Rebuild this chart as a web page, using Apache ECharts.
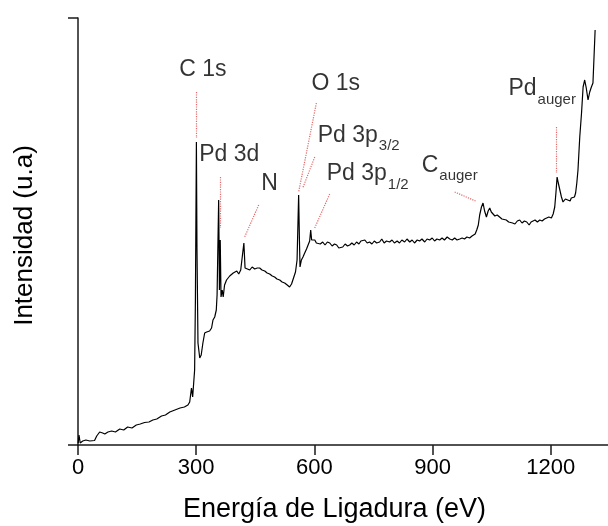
<!DOCTYPE html>
<html>
<head>
<meta charset="utf-8">
<script src="https://cdn.jsdelivr.net/npm/echarts@6/dist/echarts.min.js"></script>
<style>
html,body{margin:0;padding:0;background:#fff;}
#chart{width:608px;height:526px;}
</style>
</head>
<body>
<div id="chart"></div>
<script>
// Binding energy (eV) and intensity (a.u.)
const energy = [0.5,2.5,5.6,12,20,30,42,47.5,55,62.7,68,76,85.5,95,106,116,126,137,148,158,169,180,190,200,212,222,233,246,259,270,279,283.5,288,291,293.7,296,298,300.5,302,304.5,309,312.7,317,321.5,326.6,334,339,342.6,347,351,353,355.3,357,359,361,363,366,368.5,372,377,381,385,390,394,398,403,408,413,418,421,424,430,436,442,448.5,455,461,467,474,480,486.5,493,499,505,512,518,524.6,531,537,542,547,552,556,560,562,563.5,567,571,575.4,580,584,588,590.6,593,597,601,605,610,615,621,627,633,639,645,651,656.6,662,667,672,678,684,689.6,695,701,707,713,718,722.6,728,734,740,746,752,758,765.5,771,777,783,791,797,803,810,816,822,829,835,842,848,854,861,867,873,880,886,892.6,899,905,911,918,924,930,937,943.5,950,956,962,969,975,981,987,994,1000,1004,1008,1012,1016,1019.5,1024,1028,1032,1036.6,1041,1045,1049,1053,1058,1064,1070,1076,1081,1087,1093,1098,1103,1109,1115,1121,1127,1133,1139,1145,1150,1154,1160,1166,1172,1178,1184,1189,1195,1201.5,1206,1210,1213,1216,1219,1223,1227,1231,1237,1243,1249,1252,1256.5,1260,1263,1266,1269,1273.5,1278,1282,1286,1290,1294.5,1298.8,1303,1307,1311,1312.5];
const intensity = [2,10,2,4,5,4,4.5,9,13,12,11,13,14,13,16,15,18,17,20,21,22.5,23,25,26,29,30,33,35,37,38,40,43,57,48,50,75,145,303,195,102,87,90,102,112,113,114,117,125,128,135,150,205,245,155,205,148,155,148,160,165,163,169,167,172,170,174,171,175,173,202,177,176,175,178,176,177,177,175,174,172,171,169,168,166,165,163,162,160,158,161,167,173,185,250,205,178,185,188,192,196,200,204,215,205,203,205,202,204,201,203,200,203,202,199,201,200,197,199,198,201,199,200,202,200,203,201,204,203,205,202,203,201,204,202,203,206,202,204,203,205,202,204,202,205,203,206,203,205,202,205,204,206,203,206,205,207,204,206,205,207,205,208,206,205,207,205,206,207,206,208,207,209,208,211,215,220,230,238,242,234,228,234,237,233,232,229,230,228,226,227,225,223,225,222,221,224,225,222,224,223,220,223,222,225,223,225,224,226,225,228,227,231,238,252,268,262,255,248,243,246,245,244,247,245,248,252,262,275,308,332,358,365,357,345,353,358,362,363,415];

// x-axis tick values
const xTicks = [0, 300, 600, 900, 1200];

// Peak annotations: label text, subscript, anchor (eV, intensity)
const annText = ['C 1s', 'Pd 3d', 'N', 'O 1s', 'Pd 3p', 'Pd 3p', 'C', 'Pd'];
const annSub = ['', '', '', '', '3/2', '1/2', 'auger', 'auger'];
const annAt = [[256.9,386.8],[307.6,301.5],[465,272.5],[592.4,372.5],[608.4,321.2],[631.2,282.8],[872.3,291.2],[1092.4,367.8]];

// Leader lines from labels to peaks (eV, intensity)
const leaders = [
  [[300.5,353],[300.5,307]],
  [[362.2,268],[362.2,217]],
  [[458.6,240],[423,208]],
  [[605,342],[560,253]],
  [[600.9,288],[570.4,257]],
  [[638.8,251],[600.8,217]],
  [[956,253],[1009,244]],
  [[1214.2,318],[1214.2,272]]
];

const FONT = "'Liberation Sans', Arial, sans-serif";
const chart = echarts.init(document.getElementById('chart'), null, {renderer: 'canvas'});

const lineData = energy.map((e, i) => [e, intensity[i]]);
const annData = annText.map((t, i) => ({
  value: annAt[i],
  label: {formatter: annSub[i] ? '{m|' + t + '}{s|' + annSub[i] + '}' : '{m|' + t + '}'}
}));

chart.setOption({
  animation: false,
  backgroundColor: '#fff',
  grid: {left: 78, width: 591, top: 18, height: 427, containLabel: false, outerBoundsMode: 'none'},
  xAxis: {
    type: 'value', min: 0, max: 1500, interval: 300,
    name: 'Energía de Ligadura (eV)', nameLocation: 'middle', nameGap: 51,
    nameTextStyle: {fontFamily: FONT, fontSize: 27, color: '#000', padding: [0, 78, 0, 0]},
    axisLine: {show: true, lineStyle: {color: '#1a1a1a', width: 1.5}},
    axisTick: {show: true, length: 10, lineStyle: {color: '#1a1a1a', width: 1.5}},
    axisLabel: {fontFamily: FONT, fontSize: 22, color: '#000', margin: 12,
      formatter: v => xTicks.indexOf(v) >= 0 ? String(v) : ''},
    splitLine: {show: false}
  },
  yAxis: {
    type: 'value', min: 0, max: 427, interval: 427,
    name: 'Intensidad (u.a)', nameLocation: 'middle', nameGap: 40,
    nameTextStyle: {fontFamily: FONT, fontSize: 26, color: '#000', padding: [0, 8, 0, 0]},
    axisLine: {show: true, lineStyle: {color: '#1a1a1a', width: 1.5}},
    axisTick: {show: true, length: 10, lineStyle: {color: '#1a1a1a', width: 1.5}},
    axisLabel: {show: false},
    splitLine: {show: false}
  },
  series: [
    {
      type: 'line', data: lineData, showSymbol: false, silent: true,
      lineStyle: {color: '#000', width: 1.2}, z: 3
    },
    {
      type: 'lines', coordinateSystem: 'cartesian2d', silent: true,
      data: leaders.map(c => ({coords: c})),
      lineStyle: {color: '#e26a6a', width: 1.2, type: 'dotted', opacity: 1}, z: 2
    },
    {
      type: 'scatter', data: annData, symbolSize: 0, silent: true, z: 4,
      label: {
        show: true, position: [0, 0], align: 'left', verticalAlign: 'top',
        rich: {
          m: {fontFamily: FONT, fontSize: 23, lineHeight: 26, color: '#000', verticalAlign: 'top'},
          s: {fontFamily: FONT, fontSize: 15, lineHeight: 16, color: '#000', padding: [19, 0, 0, 1]}
        }
      }
    }
  ]
});
</script>
</body>
</html>
